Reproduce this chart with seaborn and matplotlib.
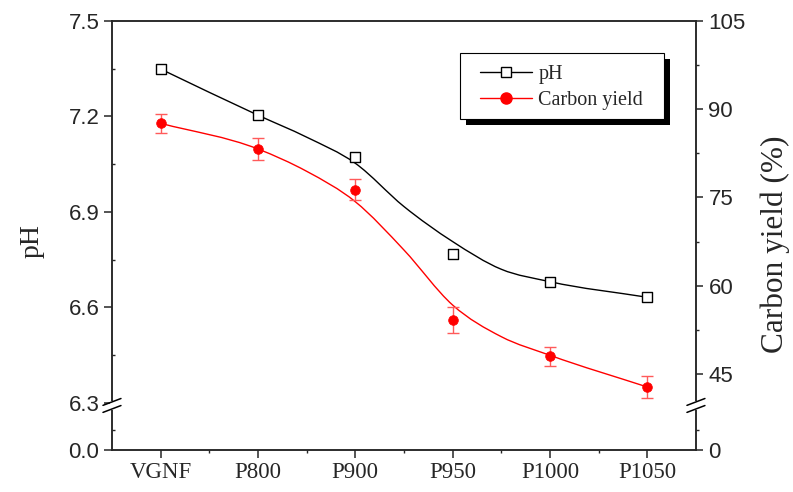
import numpy as np
import matplotlib
matplotlib.use("Agg")
import matplotlib.pyplot as plt
import seaborn as sns
from matplotlib.lines import Line2D
from matplotlib.patches import Rectangle, PathPatch
from matplotlib.path import Path
from matplotlib.ticker import FormatStrFormatter

# data
samples = ["VGNF", "P800", "P900", "P950", "P1000", "P1050"]
ph = [7.349, 7.204, 7.073, 6.767, 6.679, 6.632]
carbon_yield = [87.6, 83.2, 76.3, 54.2, 48.0, 42.8]
yield_err = [1.6, 1.9, 1.8, 2.2, 1.6, 1.9]

# smoothed fit lines
fit_pos = [0, 1, 1.5, 2, 2.5, 3, 3.5, 4, 5]
ph_fit = [7.349, 7.204, 7.135, 7.053, 6.917, 6.807, 6.720, 6.681, 6.632]
yield_fit = [87.6, 83.24, 79.45, 74.28, 66.07, 56.72, 51.34, 48.18, 42.79]

ph_ticks = [0.0, 6.3, 6.6, 6.9, 7.2, 7.5]
ph_minor = [2.9, 6.45, 6.75, 7.05, 7.35]
cy_ticks = [0, 45, 60, 75, 90, 105]
cy_minor = [18, 52.5, 67.5, 82.5, 97.5]

# broken axis: values under the break get squeezed
PH_BREAK, PH_K = 6.29, 0.0219
CY_BREAK, CY_K = 39.56, 0.189


def squeeze(brk, k):
    fwd = lambda v: np.where(v >= brk, v, brk - (brk - v) * k)
    inv = lambda u: np.where(u >= brk, u, brk - (brk - u) / k)
    return fwd, inv


def smooth_path(xs, ys):
    # spline-style connection (cubic bezier through the read points)
    xs = np.asarray(xs, float)
    ys = np.asarray(ys, float)
    m = np.gradient(ys, xs)
    verts = [(xs[0], ys[0])]
    codes = [Path.MOVETO]
    for i in range(len(xs) - 1):
        h = xs[i + 1] - xs[i]
        verts += [(xs[i] + h / 3, ys[i] + m[i] * h / 3),
                  (xs[i + 1] - h / 3, ys[i + 1] - m[i + 1] * h / 3),
                  (xs[i + 1], ys[i + 1])]
        codes += [Path.CURVE4] * 3
    return Path(verts, codes)


sns.set_style("ticks")
plt.rcParams['font.family'] = ['Liberation Serif', 'DejaVu Serif']

fig = plt.figure(figsize=(7.93, 4.92), dpi=100)
ax = fig.add_axes([0.1412, 0.0854, 0.7364, 0.872])
ax2 = ax.twinx()

pos = np.arange(len(samples))

ax.set_yscale('function', functions=squeeze(PH_BREAK, PH_K))
ax2.set_yscale('function', functions=squeeze(CY_BREAK, CY_K))

# pH
ax.add_artist(PathPatch(smooth_path(fit_pos, ph_fit), fill=False,
                        edgecolor='black', lw=1.0, zorder=2,
                        transform=ax.transData))
sns.scatterplot(x=pos, y=ph, ax=ax, marker='s', s=45, facecolor='white',
                edgecolor='black', linewidth=1.0, zorder=3)

# carbon yield
ax2.errorbar(pos, carbon_yield, yerr=yield_err, fmt='none', ecolor='#ff5a5a',
             elinewidth=1.0, capsize=4, capthick=1.0, zorder=3)
ax2.add_artist(PathPatch(smooth_path(fit_pos, yield_fit), fill=False,
                         edgecolor='red', lw=1.0, zorder=2,
                         transform=ax2.transData))
sns.scatterplot(x=pos, y=carbon_yield, ax=ax2, color='red', edgecolor='red',
                s=48, zorder=4)

ax.set_ylim(0, 7.5)
ax2.set_ylim(0, 105)
ax.set_xlim(-0.5, 5.5)

ax.set_yticks(ph_ticks)
ax.set_yticks(ph_minor, minor=True)
ax.yaxis.set_major_formatter(FormatStrFormatter('%.1f'))
ax2.set_yticks(cy_ticks)
ax2.set_yticks(cy_minor, minor=True)
ax2.yaxis.set_major_formatter(FormatStrFormatter('%d'))
ax.set_xticks(pos)
ax.set_xticklabels(samples)
ax.set_xticks(np.arange(0.5, 5, 1), minor=True)

for a in (ax, ax2):
    for sp in a.spines.values():
        sp.set_linewidth(1.1)
        sp.set_visible(True)

ax.tick_params(axis='y', which='major', direction='out', length=6, width=1.1,
               pad=3, labelsize=16, labelfontfamily='Liberation Sans')
ax.tick_params(axis='y', which='minor', direction='in', length=2.5, width=1.0)
ax2.tick_params(axis='y', which='major', direction='out', length=5, width=1.1,
                pad=4, labelsize=16, labelfontfamily='Liberation Sans')
ax2.tick_params(axis='y', which='minor', direction='out', length=2.5, width=1.0)
ax.tick_params(axis='x', which='major', direction='out', length=6, width=1.1,
               pad=3, labelsize=16.5)
ax.tick_params(axis='x', which='minor', direction='out', length=2.5, width=1.0)

ax.set_xlabel('')
ax.set_ylabel('pH', fontsize=20, fontfamily='Liberation Serif')
ax.yaxis.set_label_coords(-0.115, 0.488)
ax2.set_ylabel('Carbon yield (%)', fontsize=22.5, fontfamily='Liberation Serif')
ax2.yaxis.set_label_coords(1.11, 0.479)

# axis break marks
for xb in (0.0, 1.0):
    ax2.plot([xb, xb], [0.099, 0.109], transform=ax2.transAxes, color='white',
             lw=3, clip_on=False, zorder=5)
    for yc in (0.112, 0.0956):
        ax2.plot([xb - 0.0154, xb + 0.0154], [yc - 0.008, yc + 0.008],
                 transform=ax2.transAxes, color='black', lw=1.1,
                 clip_on=False, zorder=6)

# legend box with solid drop shadow
bx, by, bw, bh = 0.5959, 0.7716, 0.3493, 0.1538
ax2.add_artist(Rectangle((bx + 6 / 584, by - 6 / 429), bw, bh,
                         transform=ax2.transAxes, facecolor='black',
                         edgecolor='none', clip_on=False, zorder=4.8))
ax2.add_artist(Rectangle((bx, by), bw, bh, transform=ax2.transAxes,
                         facecolor='white', edgecolor='black', lw=0.8,
                         clip_on=False, zorder=4.9))

handles = [
    Line2D([], [], color='black', lw=1.0, marker='s', markersize=7,
           markerfacecolor='white', markeredgecolor='black'),
    Line2D([], [], color='red', lw=1.0, marker='o', markersize=8,
           markerfacecolor='red', markeredgecolor='red'),
]
leg = ax2.legend(handles, ['pH', 'Carbon yield'], loc='upper left',
                 bbox_to_anchor=(0.630, 0.897), borderaxespad=0,
                 frameon=False, fontsize=14.5, handlelength=2.6,
                 handletextpad=0.3, labelspacing=0.35, borderpad=0)
leg.set_zorder(5)

fig.savefig('out.png', dpi=100)
